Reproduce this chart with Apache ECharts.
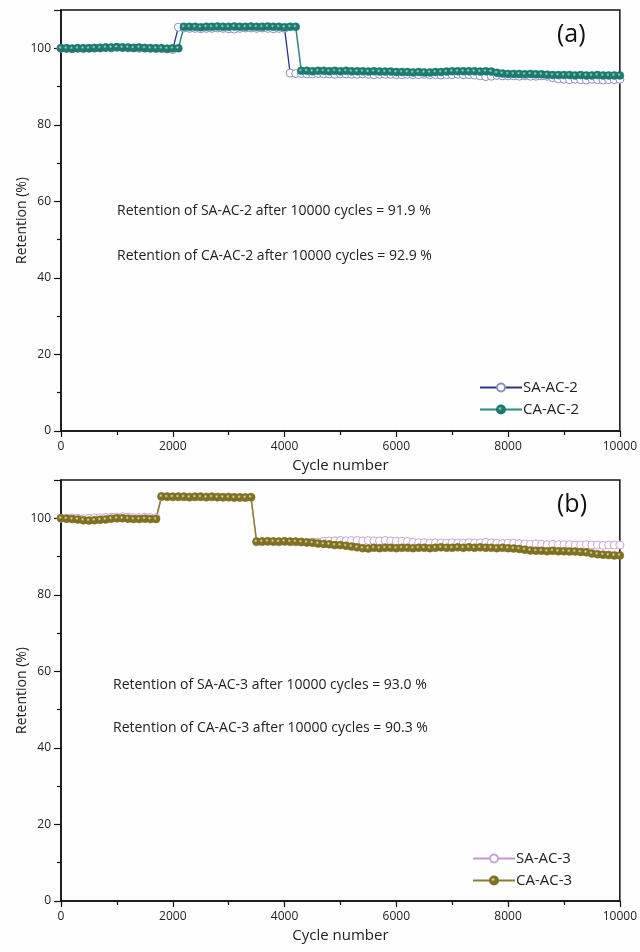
<!DOCTYPE html>
<html>
<head>
<meta charset="utf-8">
<script src="https://cdn.jsdelivr.net/npm/echarts@6/dist/echarts.min.js"></script>
<style>
  html, body { margin: 0; padding: 0; background: #fefefe; }
  #chart { width: 640px; height: 952px; }
</style>
</head>
<body>
<div id="chart"></div>
<script>
// cycle number of each point (one every 100 cycles)
const cycles = [
  0, 100, 200, 300, 400, 500, 600, 700, 800, 900,
  1000, 1100, 1200, 1300, 1400, 1500, 1600, 1700, 1800, 1900,
  2000, 2100, 2200, 2300, 2400, 2500, 2600, 2700, 2800, 2900,
  3000, 3100, 3200, 3300, 3400, 3500, 3600, 3700, 3800, 3900,
  4000, 4100, 4200, 4300, 4400, 4500, 4600, 4700, 4800, 4900,
  5000, 5100, 5200, 5300, 5400, 5500, 5600, 5700, 5800, 5900,
  6000, 6100, 6200, 6300, 6400, 6500, 6600, 6700, 6800, 6900,
  7000, 7100, 7200, 7300, 7400, 7500, 7600, 7700, 7800, 7900,
  8000, 8100, 8200, 8300, 8400, 8500, 8600, 8700, 8800, 8900,
  9000, 9100, 9200, 9300, 9400, 9500, 9600, 9700, 9800, 9900,
  10000
];

// panel (a)
const saAc2 = [
  100.0, 99.9, 99.9, 100.0, 99.9, 100.0, 100.0, 100.1, 100.2, 100.1,
  100.2, 100.2, 100.1, 100.1, 100.0, 100.0, 100.0, 99.9, 99.9, 99.8,
  99.7, 105.5, 105.3, 105.2, 105.2, 105.1, 105.2, 105.2, 105.3, 105.2,
  105.1, 105.0, 105.2, 105.3, 105.3, 105.2, 105.3, 105.2, 105.1, 105.2,
  105.2, 93.5, 93.4, 93.4, 93.3, 93.3, 93.4, 93.3, 93.3, 93.2,
  93.3, 93.3, 93.2, 93.2, 93.3, 93.2, 93.1, 93.2, 93.2, 93.2,
  93.1, 93.1, 93.2, 93.1, 93.1, 93.2, 93.1, 93.1, 93.0, 93.1,
  93.1, 93.2, 93.1, 93.1, 93.0, 92.8, 92.6, 92.7, 92.9, 92.8,
  92.8, 92.8, 92.7, 92.8, 92.7, 92.7, 92.8, 92.7, 92.3, 92.0,
  91.9, 91.8, 91.9, 91.8, 91.7, 91.9, 91.8, 91.7, 91.8, 91.8,
  91.9
];
const caAc2 = [
  100.0, 100.0, 99.9, 100.0, 100.0, 100.0, 100.1, 100.1, 100.2, 100.2,
  100.3, 100.2, 100.2, 100.1, 100.2, 100.1, 100.0, 100.0, 100.0, 99.9,
  100.0, 100.0, 105.6, 105.6, 105.6, 105.5, 105.6, 105.6, 105.7, 105.6,
  105.6, 105.7, 105.6, 105.6, 105.7, 105.6, 105.6, 105.7, 105.6, 105.6,
  105.5, 105.6, 105.6, 94.1, 94.1, 94.0, 94.1, 94.1, 94.0, 94.1,
  94.0, 94.1, 94.0, 94.0, 94.0, 93.9, 94.0, 93.9, 93.9, 93.9,
  93.8, 93.8, 93.8, 93.7, 93.8, 93.7, 93.7, 93.8, 93.8, 93.9,
  94.0, 94.0, 94.0, 94.0, 94.0, 93.9, 94.0, 93.9, 93.6, 93.4,
  93.3, 93.3, 93.3, 93.2, 93.3, 93.2, 93.2, 93.1, 93.0, 93.0,
  93.0, 93.0, 92.9, 93.0, 92.9, 92.9, 93.0, 92.9, 92.9, 92.9,
  92.9
];

// panel (b)
const saAc3 = [
  100.0, 100.0, 100.1, 100.0, 99.9, 100.0, 100.1, 100.1, 100.2, 100.3,
  100.3, 100.4, 100.3, 100.2, 100.2, 100.3, 100.2, 100.1, 105.7, 105.7,
  105.6, 105.7, 105.7, 105.6, 105.6, 105.7, 105.6, 105.6, 105.6, 105.5,
  105.6, 105.5, 105.5, 105.4, 105.5, 93.8, 93.9, 93.9, 93.9, 93.8,
  93.9, 93.8, 93.8, 93.8, 93.7, 93.8, 93.8, 94.0, 94.1, 94.1,
  94.2, 94.1, 94.2, 94.2, 94.1, 94.2, 94.1, 94.1, 94.2, 94.1,
  94.0, 94.0, 93.9, 93.7, 93.6, 93.6, 93.5, 93.6, 93.5, 93.5,
  93.6, 93.5, 93.5, 93.6, 93.5, 93.6, 93.7, 93.6, 93.5, 93.4,
  93.5, 93.5, 93.4, 93.3, 93.2, 93.3, 93.2, 93.1, 93.2, 93.1,
  93.1, 93.1, 93.0, 93.0, 93.1, 93.0, 93.0, 92.9, 93.0, 93.0,
  93.0
];
const caAc3 = [
  100.0, 99.9, 99.8, 99.7, 99.5, 99.4, 99.5, 99.6, 99.7, 99.9,
  100.0, 100.0, 99.9, 99.8, 99.8, 99.9, 99.8, 99.8, 105.7, 105.6,
  105.6, 105.6, 105.6, 105.5, 105.6, 105.6, 105.5, 105.6, 105.5, 105.5,
  105.5, 105.4, 105.4, 105.4, 105.5, 93.9, 93.9, 94.0, 93.9, 93.9,
  94.0, 93.9, 93.9, 93.8, 93.7, 93.6, 93.4, 93.3, 93.2, 93.0,
  93.0, 92.8, 92.6, 92.4, 92.2, 92.1, 92.3, 92.2, 92.3, 92.3,
  92.2, 92.3, 92.3, 92.2, 92.3, 92.3, 92.2, 92.3, 92.4, 92.3,
  92.3, 92.4, 92.3, 92.4, 92.3, 92.4, 92.3, 92.3, 92.2, 92.3,
  92.2, 92.1, 92.0, 91.8, 91.6, 91.5, 91.5, 91.4, 91.5, 91.4,
  91.4, 91.3, 91.3, 91.2, 91.1, 90.8, 90.6, 90.5, 90.4, 90.3,
  90.3
];

const xTicks = { min: 0, max: 10000, interval: 2000 };
const yTicks = { min: 0, max: 110, interval: 20 };

const FONT = "'Open Sans', 'DejaVu Sans', sans-serif";

function pairs(ys) {
  return cycles.map((c, i) => [c, ys[i]]);
}

function ball(light, dark) {
  return new echarts.graphic.RadialGradient(0.4, 0.4, 0.6, [
    { offset: 0, color: light },
    { offset: 0.35, color: dark },
    { offset: 1, color: dark }
  ]);
}

function xAxisFor(idx) {
  return {
    type: 'value', gridIndex: idx,
    min: xTicks.min, max: xTicks.max, interval: xTicks.interval,
    name: 'Cycle number', nameLocation: 'middle', nameGap: 27,
    nameMoveOverlap: false,
    nameTextStyle: { fontFamily: FONT, fontSize: 15, color: '#222' },
    axisLine: { lineStyle: { color: '#111', width: 1.5 } },
    axisTick: { length: 6, lineStyle: { color: '#111', width: 1.2 } },
    minorTick: { show: true, splitNumber: 2, length: 4, lineStyle: { color: '#111', width: 1.2 } },
    axisLabel: { fontFamily: FONT, fontSize: 12, color: '#222', margin: 10,
      formatter: v => String(v) },
    splitLine: { show: false }
  };
}

function yAxisFor(idx) {
  return {
    type: 'value', gridIndex: idx,
    min: yTicks.min, max: yTicks.max, interval: yTicks.interval,
    name: 'Retention (%)', nameLocation: 'middle', nameGap: 32,
    nameMoveOverlap: false,
    nameTextStyle: { fontFamily: FONT, fontSize: 14, color: '#222' },
    axisLine: { show: true, lineStyle: { color: '#111', width: 1.5 } },
    axisTick: { show: true, length: 7, lineStyle: { color: '#111', width: 1.2 } },
    minorTick: { show: true, splitNumber: 2, length: 4, lineStyle: { color: '#111', width: 1.2 } },
    axisLabel: { fontFamily: FONT, fontSize: 12, color: '#222', margin: 10,
      formatter: v => (v === 110 ? '' : String(v)) },
    splitLine: { show: false }
  };
}

function hollow(name, data, lineColor, edgeColor, xi) {
  return {
    name, type: 'line', xAxisIndex: xi, yAxisIndex: xi,
    data: pairs(data), symbol: 'circle', symbolSize: 8,
    lineStyle: { color: lineColor, width: 1.3 },
    itemStyle: { color: '#fff', borderColor: edgeColor, borderWidth: 1 },
    animation: false
  };
}

function filled(name, data, lineColor, light, dark, xi) {
  return {
    name, type: 'line', xAxisIndex: xi, yAxisIndex: xi,
    data: pairs(data), symbol: 'circle', symbolSize: 8,
    lineStyle: { color: lineColor, width: 1.5 },
    itemStyle: { color: ball(light, dark), borderColor: dark, borderWidth: 0.5 },
    animation: false
  };
}

const legendBase = {
  orient: 'vertical', itemWidth: 42, itemHeight: 10, itemGap: 7,
  textStyle: { fontFamily: FONT, fontSize: 15, color: '#222', padding: [0, 0, 0, -4] }
};

const textStyle = { fontFamily: FONT, fontSize: 14, fill: '#222' };

const chart = echarts.init(document.getElementById('chart'));
chart.setOption({
  backgroundColor: '#fefefe',
  grid: [
    { left: 61, right: 20, top: 10, height: 421, show: true, borderColor: '#111', borderWidth: 1.5, backgroundColor: 'transparent' },
    { left: 61, right: 20, top: 480, height: 421, show: true, borderColor: '#111', borderWidth: 1.5, backgroundColor: 'transparent' }
  ],
  xAxis: [xAxisFor(0), xAxisFor(1)],
  yAxis: [yAxisFor(0), yAxisFor(1)],
  legend: [
    Object.assign({}, legendBase, { left: 474, top: 375, data: ['SA-AC-2', 'CA-AC-2'] }),
    Object.assign({}, legendBase, { left: 467, top: 846, data: ['SA-AC-3', 'CA-AC-3'] })
  ],
  graphic: [
    { type: 'text', left: 117, top: 204, style: Object.assign({ text: 'Retention of SA-AC-2 after 10000 cycles = 91.9 %' }, textStyle) },
    { type: 'text', left: 117, top: 249, style: Object.assign({ text: 'Retention of CA-AC-2 after 10000 cycles = 92.9 %' }, textStyle) },
    { type: 'text', left: 113, top: 678, style: Object.assign({ text: 'Retention of SA-AC-3 after 10000 cycles = 93.0 %' }, textStyle) },
    { type: 'text', left: 113, top: 721, style: Object.assign({ text: 'Retention of CA-AC-3 after 10000 cycles = 90.3 %' }, textStyle) },
    { type: 'text', left: 557, top: 22, style: { text: '(a)', fontFamily: FONT, fontSize: 25, fill: '#111' } },
    { type: 'text', left: 557, top: 492, style: { text: '(b)', fontFamily: FONT, fontSize: 25, fill: '#111' } }
  ],
  series: [
    hollow('SA-AC-2', saAc2, '#2e3384', '#8a8ccc', 0),
    filled('CA-AC-2', caAc2, '#2a8a82', '#a8ddd4', '#1d7a6e', 0),
    hollow('SA-AC-3', saAc3, '#c793d6', '#c9a3da', 1),
    filled('CA-AC-3', caAc3, '#8c7e2c', '#eee3a8', '#7f7022', 1)
  ]
});
</script>
</body>
</html>
